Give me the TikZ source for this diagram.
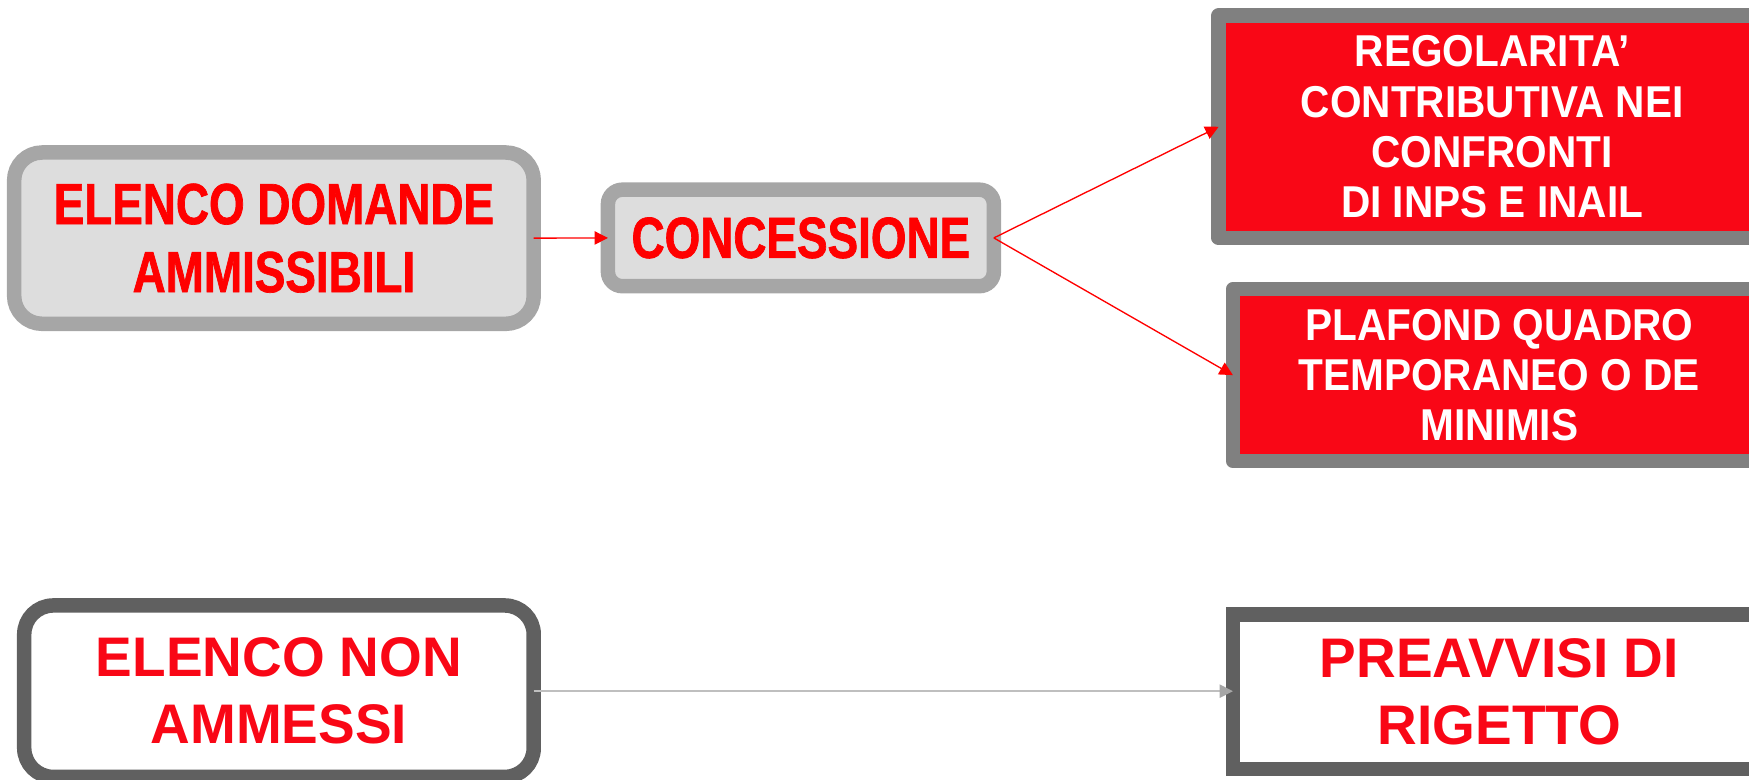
\documentclass[tikz,border=0pt]{standalone}
\usepackage{fontspec}
\setmainfont{Liberation Sans}
\newfontfamily\condfont{Liberation Sans}[FakeStretch=0.79,FakeBold=1.2]
\newfontfamily\midfont{Liberation Sans}[FakeStretch=0.91]
\newfontfamily\plainfont{Liberation Sans}[FakeStretch=0.985]
\usetikzlibrary{arrows.meta}
\definecolor{boxred}{RGB}{249,7,22}
\definecolor{lgray}{RGB}{166,166,166}
\definecolor{lfill}{RGB}{221,221,221}
\definecolor{mgray}{RGB}{128,128,128}
\definecolor{dgray}{RGB}{96,96,96}
\definecolor{agray}{RGB}{191,191,191}
\begin{document}
\begin{tikzpicture}[x=1pt,y=-1pt,
  base/.style={inner sep=0pt,outer sep=0pt,align=center,line width=13pt},
  softbox/.style={base,draw=lgray,fill=lfill,text=red,font={\condfont\bfseries\fontsize{52}{61}\selectfont}},
  redbox/.style={base,draw=mgray,fill=boxred,text=white,line join=round,font={\midfont\bfseries\fontsize{40}{45}\selectfont}},
  whitebox/.style={base,draw=dgray,fill=white,text=boxred,font={\plainfont\bfseries\fontsize{50}{60}\selectfont}},
  redarrow/.style={draw=red,line width=1.2pt,-{Triangle[length=12pt,width=12pt]}},
  grayarrow/.style={draw=agray,line width=1.4pt,-{Triangle[length=12pt,width=12pt,color=lgray]}}]
\useasboundingbox (0,0) rectangle (1568,699);
\node[softbox,rounded corners=25pt,minimum width=465.8pt,minimum height=153.6pt] (b1) at (245.6,213.5) {ELENCO DOMANDE\\AMMISSIBILI};
\node[softbox,rounded corners=13pt,minimum width=346pt,minimum height=86.5pt] (b2) at (718,213.3) {CONCESSIONE};
\node[redbox,minimum width=490.5pt,minimum height=199.3pt] (b3) at (1337.75,113.65) {REGOLARITA’\\CONTRIBUTIVA NEI\\CONFRONTI\\DI INPS E INAIL};
\node[redbox,minimum width=477.7pt,minimum height=154.2pt] (b4) at (1344.15,336.3) {PLAFOND QUADRO\\TEMPORANEO O DE\\MINIMIS};
\node[whitebox,rounded corners=26pt,minimum width=456.8pt,minimum height=153.7pt] (b5) at (250.1,619.65) {ELENCO NON\\AMMESSI};
\node[whitebox,minimum width=477.7pt,minimum height=138.5pt] (b6) at (1344.15,620.25) {PREAVVISI DI\\RIGETTO};
\draw[redarrow] (b1.east) -- (b2.west);
\draw[redarrow] (b2.east) -- (b3.west);
\draw[redarrow] (b2.east) -- (b4.west);
\draw[grayarrow] (b5.east) -- (b5.east -| b6.west);
\end{tikzpicture}
\end{document}
